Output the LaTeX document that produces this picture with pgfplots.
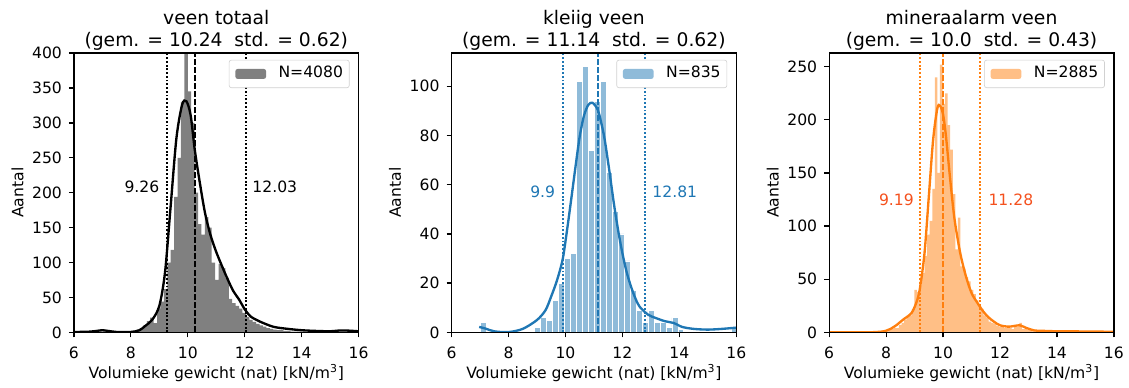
\documentclass[border=0pt]{standalone}
\usepackage{pgfplots}
\pgfplotsset{compat=1.18}
\usepackage{fontspec}
\setmainfont{DejaVu Sans}
\definecolor{tabblue}{HTML}{1F77B4}
\definecolor{taborange}{HTML}{FF7F0E}
\definecolor{histgray}{HTML}{808080}
\definecolor{histblue}{HTML}{8FBBD9}
\definecolor{historange}{HTML}{FFBF86}
\definecolor{labred}{HTML}{F4511E}
\newcommand{\tfont}{\fontsize{10}{12}\selectfont}
\pgfplotsset{
  hstyle/.style={
    scale only axis, width=182.5pt, height=179pt, anchor=south west,
    xmin=6, xmax=16, ymin=0, xtick={6,8,10,12,14,16},
    axis on top, tick align=outside, xtick pos=left, ytick pos=left,
    major tick length=3.2pt,
    every tick/.style={black, line width=0.8pt},
    axis line style={line width=0.8pt},
    tick label style={font=\tfont},
    xticklabel style={yshift=-2.5pt},
    yticklabel style={xshift=-1pt},
    /pgf/number format/assume math mode=true,
    xlabel={Volumieke gewicht (nat) [kN/m\textsuperscript{3}]},
    ylabel={Aantal},
    every axis x label/.style={at={(axis description cs:0.5,0)}, anchor=base, yshift=-29.7pt, font=\tfont},
    every axis y label/.style={at={(axis description cs:0,0.5)}, xshift=-36.2pt, rotate=90, anchor=center, font=\tfont},
    every axis title/.style={at={(axis description cs:0.5,1)}, anchor=south, yshift=1.5pt, align=center, inner sep=0pt, font=\fontsize{12}{14.4}\selectfont},
    legend cell align=left,
    legend style={at={(1,1)}, anchor=north east, xshift=-5.8pt, yshift=-4.3pt,
      draw=black!18, rounded corners=1.5pt, font=\tfont, inner xsep=4pt, inner ysep=4pt,
      nodes={inner sep=0pt, text height=7.3pt, text depth=2.4pt},
      /tikz/every odd column/.append style={column sep=8pt}},
  },
  histpatch/.style={legend image code/.code={\path[##1,draw=none] (0pt,-3.2pt) rectangle (19.7pt,3.2pt);}},
  vdot/.style={line width=1.3pt, dash pattern=on 1.2pt off 1.2pt},
  vdash/.style={line width=1.3pt, dash pattern=on 3.8pt off 1.4pt},
  kde/.style={no marks, smooth, line width=1.5pt},
}
\begin{document}
\begin{tikzpicture}
\path (0,0) rectangle (723pt,247.8pt);
% ---------------- panel 1
\begin{axis}[hstyle, at={(47.39pt,34.77pt)}, ymax=400, ytick={0,50,...,400},
  title={veen totaal\\(gem. = 10.24\ \ std. = 0.62)}]
\addplot[ybar, bar shift=0pt, bar width=0.12, fill=histgray, draw=none, histpatch] coordinates {
(6.94,1) (7.06,1)
(8.26,4) (8.38,6) (8.50,10) (8.62,16) (8.74,21) (8.86,13) (8.98,34) (9.10,44)
(9.22,62) (9.34,100) (9.46,118) (9.58,194) (9.70,250) (9.82,330) (9.94,520)
(10.06,345) (10.18,300) (10.30,200) (10.42,155) (10.54,140) (10.66,165) (10.78,150)
(10.90,100) (11.02,75) (11.14,98) (11.26,92) (11.38,78) (11.50,48) (11.62,42)
(11.74,38) (11.86,34) (11.98,28) (12.10,22) (12.22,18) (12.34,15) (12.46,12)
(12.58,10) (12.70,8) (12.82,6) (12.94,5) (13.06,4) (13.18,3) (13.30,3) (13.42,2)
(13.54,2) (13.66,1) (13.78,1) (13.90,1) (14.02,1) (14.26,1) (14.62,1) (15.34,1)
(15.46,1) (15.58,1) (15.70,1)};
\addlegendentry{N=4080}
\addplot[kde, black, forget plot] coordinates {
(6.0,0.5) (6.5,0.8) (6.8,2) (7.0,3) (7.2,2) (7.5,0.5) (8.0,0.5) (8.3,3) (8.5,9)
(8.75,18) (9.0,38) (9.2,86) (9.4,182) (9.6,278) (9.8,326) (9.95,331) (10.1,311)
(10.24,263) (10.4,220) (10.6,172) (10.8,139) (11.0,115) (11.2,95) (11.4,76)
(11.6,59) (11.8,47) (12.0,33) (12.2,23) (12.5,16) (13.0,8) (13.5,5) (14.0,3)
(14.5,2) (15.0,1.5) (15.3,2.5) (15.6,2.5) (16,1.5)};
\addplot[vdot, black, forget plot] coordinates {(9.26,0) (9.26,400)};
\addplot[vdot, black, forget plot] coordinates {(12.03,0) (12.03,400)};
\addplot[vdash, black, forget plot] coordinates {(10.24,0) (10.24,400)};
\node[anchor=east, inner sep=0pt, xshift=-4.6pt, font=\tfont] at (axis cs:9.26,208) {9.26};
\node[anchor=west, inner sep=0pt, xshift=4.2pt, font=\tfont] at (axis cs:12.03,208) {12.03};
\end{axis}
% ---------------- panel 2
\begin{axis}[hstyle, at={(289.47pt,34.77pt)}, ymax=113.5, ytick={0,20,...,100},
  title={kleiig veen\\(gem. = 11.14\ \ std. = 0.62)}]
\addplot[ybar, bar shift=0pt, bar width=0.21, fill=histblue, draw=white, line width=0.5pt, histpatch] coordinates {
(7.125,4) (9.015,2) (9.225,6) (9.435,5) (9.645,13) (9.855,20) (10.065,30) (10.275,32)
(10.485,102) (10.695,108) (10.905,74) (11.115,94) (11.325,102) (11.535,65)
(11.745,49) (11.955,40) (12.165,29) (12.375,17) (12.585,9) (12.795,4) (13.005,9)
(13.215,4) (13.425,4) (13.635,2) (13.845,6) (14.055,1) (15.945,2)};
\addlegendentry{N=835}
\addplot[kde, tabblue, forget plot] coordinates {
(6.97,2.2) (7.2,1.5) (7.5,0.4) (8.0,0.1) (8.5,1.4) (9.0,5) (9.3,9) (9.5,14.6)
(9.7,21) (9.9,29.5) (10.05,41) (10.2,53.8) (10.35,67) (10.5,79.5) (10.65,88)
(10.8,92.4) (10.95,93.3) (11.14,90.3) (11.3,83) (11.4,76.8) (11.55,65) (11.7,52.5)
(11.85,41.5) (12.0,32.2) (12.15,24.5) (12.3,18.7) (12.45,14) (12.6,10.5) (12.9,7.2)
(13.2,5.7) (13.5,4.5) (13.8,3.8) (14.1,2.2) (14.5,1.4) (15,1.1) (15.5,1.4) (16,1.9)};
\addplot[vdot, tabblue, forget plot] coordinates {(9.9,0) (9.9,113.5)};
\addplot[vdot, tabblue, forget plot] coordinates {(12.81,0) (12.81,113.5)};
\addplot[vdash, tabblue, forget plot] coordinates {(11.14,0) (11.14,113.5)};
\node[anchor=east, inner sep=0pt, xshift=-4.6pt, font=\tfont, text=tabblue] at (axis cs:9.9,57.2) {9.9};
\node[anchor=west, inner sep=0pt, xshift=4.3pt, font=\tfont, text=tabblue] at (axis cs:12.81,57.2) {12.81};
\end{axis}
% ---------------- panel 3
\begin{axis}[hstyle, at={(531.55pt,34.77pt)}, ymax=262.8, ytick={0,50,...,250},
  title={mineraalarm veen\\(gem. = 10.0\ \ std. = 0.43)}]
\addplot[ybar, bar shift=0pt, bar width=0.09, fill=historange, draw=none, histpatch] coordinates {
(8.045,1) (8.135,2) (8.225,3) (8.315,4) (8.405,4) (8.495,7) (8.585,9) (8.675,12)
(8.765,15) (8.855,16) (8.945,22) (9.035,40) (9.125,38) (9.215,44) (9.305,56)
(9.395,72) (9.485,92) (9.575,105) (9.665,135) (9.755,240) (9.845,150) (9.935,252)
(10.025,215) (10.115,225) (10.205,195) (10.295,172) (10.385,130) (10.475,78)
(10.565,108) (10.655,62) (10.745,60) (10.835,52) (10.925,48) (11.015,40) (11.105,36)
(11.195,30) (11.285,26) (11.375,22) (11.465,16) (11.555,14) (11.645,10) (11.735,9)
(11.825,8) (11.915,6) (12.005,5) (12.095,5) (12.185,4) (12.275,4) (12.365,4)
(12.455,3) (12.545,5) (12.635,5) (12.725,9) (12.815,3) (12.905,3) (12.995,2)
(13.085,2) (13.175,1) (13.265,1) (13.355,1) (13.535,1) (13.805,1) (14.165,1)
(14.885,1) (15.425,1) (15.605,1)};
\addlegendentry{N=2885}
\addplot[kde, taborange, forget plot] coordinates {
(6,0) (7.5,0.1) (8.0,1.5) (8.3,5.6) (8.6,12) (8.9,18.5) (9.1,31) (9.2,43.6)
(9.35,75) (9.5,128) (9.65,181) (9.8,211) (9.9,213) (10.0,205) (10.1,185)
(10.25,144) (10.4,107) (10.6,75) (10.8,53) (11.0,37) (11.2,28) (11.4,20) (11.6,14)
(11.8,9.8) (12.0,6.6) (12.3,5.3) (12.5,6) (12.7,6.6) (12.9,4.4) (13.2,1.8)
(13.6,1.3) (14,1) (15,0.8) (16,0.5)};
\addplot[vdot, taborange, forget plot] coordinates {(9.19,0) (9.19,262.8)};
\addplot[vdot, taborange, forget plot] coordinates {(11.28,0) (11.28,262.8)};
\addplot[vdash, taborange, forget plot] coordinates {(10.0,0) (10.0,262.8)};
\node[anchor=east, inner sep=0pt, xshift=-3.8pt, font=\tfont, text=labred] at (axis cs:9.19,124.8) {9.19};
\node[anchor=west, inner sep=0pt, xshift=5.6pt, font=\tfont, text=labred] at (axis cs:11.28,124.8) {11.28};
\end{axis}
\end{tikzpicture}
\end{document}
